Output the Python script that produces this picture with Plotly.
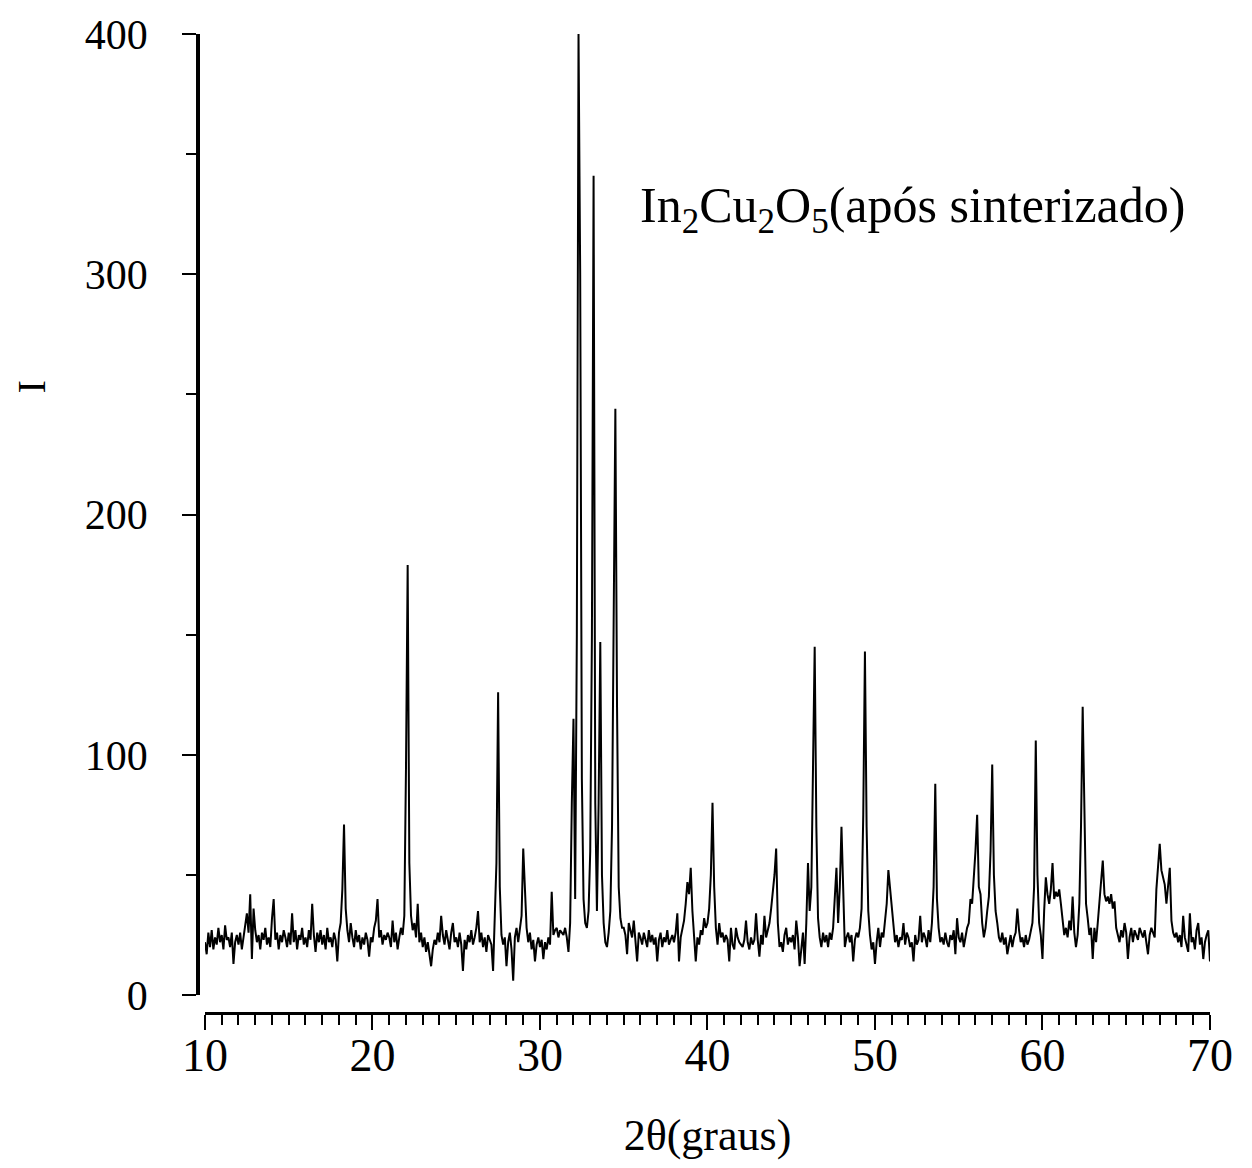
import plotly.graph_objects as go

# Intensity readings, 0.1 degree steps; each list covers one decade of 2theta
start_10, I_10_20 = 10.0, [
    22, 17, 26, 20, 27, 19, 24, 21, 28, 22,
    25, 19, 29, 23, 24, 20, 26, 13, 22, 25,
    21, 26, 19, 24, 30, 34, 26, 42, 15, 36,
    27, 22, 25, 19, 26, 23, 28, 21, 24, 20,
    32, 40, 23, 26, 19, 25, 22, 27, 24, 20,
    26, 21, 34, 22, 27, 19, 25, 23, 28, 21,
    24, 20, 27, 23, 38, 25, 18, 26, 22, 27,
    21, 25, 19, 28, 22, 24, 20, 26, 23, 14,
    26, 30, 44, 71, 36, 27, 22, 30, 24, 20,
    27, 22, 25, 19, 24, 21, 26, 23, 16, 24,
]
start_20, I_20_30 = 20.0, [
    22, 28, 31, 40, 24, 27, 21, 25, 23, 26,
    24, 20, 31, 22, 26, 19, 24, 28, 25, 33,
    95, 179, 55, 33, 27, 30, 24, 38, 22, 26,
    20, 24, 18, 22, 17, 12, 19, 23, 21, 26,
    22, 33, 25, 21, 27, 23, 19, 26, 30, 22,
    24, 20, 26, 21, 10, 23, 19, 25, 22, 27,
    21, 24, 28, 35, 22, 26, 20, 24, 18, 25,
    23, 21, 10, 30, 55, 126, 45, 25, 21, 24,
    12, 22, 26, 19, 6, 24, 28, 22, 27, 33,
    61, 42, 28, 22, 26, 19, 23, 14, 21, 24,
]
start_30, I_30_40 = 30.0, [
    20, 23, 15, 22, 19, 24, 21, 43, 25, 27,
    28, 24, 27, 26, 25, 28, 24, 18, 30, 80,
    115, 40, 150, 400, 300, 90, 40, 30, 28, 35,
    60, 150, 341, 80, 35, 80, 147, 50, 30, 22,
    20, 26, 35, 70, 170, 244, 120, 45, 32, 28,
    28, 25, 17, 30, 27, 24, 31, 22, 14, 26,
    24, 21, 26, 23, 20, 27, 22, 25, 21, 24,
    14, 23, 26, 20, 24, 22, 27, 21, 23, 25,
    22, 26, 34, 14, 24, 28, 31, 38, 47, 42,
    53, 35, 22, 14, 24, 21, 27, 25, 32, 28,
]
start_40, I_40_50 = 40.0, [
    30, 36, 50, 80, 45, 28, 21, 30, 24, 26,
    22, 25, 23, 14, 28, 21, 19, 28, 24, 22,
    21, 20, 23, 31, 22, 19, 24, 21, 23, 34,
    23, 16, 25, 21, 33, 24, 27, 30, 36, 42,
    50, 61, 30, 20, 22, 18, 25, 28, 21, 24,
    22, 25, 19, 31, 24, 12, 20, 26, 13, 30,
    55, 35, 45, 90, 145, 70, 32, 24, 20, 26,
    22, 25, 20, 26, 23, 28, 40, 53, 30, 45,
    70, 40, 20, 24, 26, 22, 25, 14, 23, 26,
    24, 28, 36, 75, 143, 70, 35, 25, 19, 22,
]
start_50, I_50_60 = 50.0, [
    13, 22, 28, 20, 26, 24, 30, 38, 52, 45,
    38, 28, 22, 25, 20, 24, 23, 30, 21, 26,
    24, 20, 22, 14, 25, 21, 23, 33, 22, 26,
    24, 20, 27, 22, 30, 45, 88, 40, 28, 22,
    24, 21, 26, 22, 20, 25, 23, 27, 17, 32,
    24, 22, 26, 20, 24, 28, 30, 40, 38, 48,
    60, 75, 45, 42, 30, 24, 28, 35, 41, 60,
    96, 50, 35, 30, 24, 22, 26, 21, 24, 17,
    22, 25, 20, 24, 26, 36, 27, 22, 24, 20,
    25, 21, 23, 26, 30, 45, 106, 50, 30, 25,
]
start_60, I_60_70 = 60.0, [
    15, 35, 49, 42, 38, 44, 55, 40, 43, 41,
    44, 38, 30, 25, 28, 24, 31, 27, 41, 26,
    20, 25, 38, 70, 120, 80, 38, 32, 25, 28,
    15, 28, 22, 30, 38, 45, 56, 42, 39, 41,
    38, 42, 36, 39, 28, 25, 22, 27, 24, 30,
    26, 15, 24, 28, 22, 27, 25, 23, 28, 26,
    24, 27, 22, 17, 25, 28, 26, 24, 44, 56,
    63, 52, 49, 46, 38, 45, 53, 31, 26, 24,
    26, 22, 25, 20, 33, 24, 21, 18, 34, 22,
    24, 19, 27, 30, 21, 24, 15, 22, 25, 27,
    14,
]

segments = [(start_10, I_10_20), (start_20, I_20_30), (start_30, I_30_40),
            (start_40, I_40_50), (start_50, I_50_60), (start_60, I_60_70)]
step = 0.1
two_theta, intensity = [], []
for s, vals in segments:
    for i, v in enumerate(vals):
        two_theta.append(round(s + i * step, 2))
        intensity.append(v)

x_ticks = [10, 20, 30, 40, 50, 60, 70]
y_ticks = [0, 100, 200, 300, 400]
label_text = "In<sub>2</sub>Cu<sub>2</sub>O<sub>5</sub>(após sinterizado)"
x_title = "2θ(graus)"
y_title = "I"

FONT = "Liberation Serif, Times New Roman, serif"

fig = go.Figure()
fig.add_trace(go.Scatter(x=two_theta, y=intensity, mode="lines",
                         line=dict(color="black", width=2),
                         showlegend=False, hoverinfo="skip"))

fig.add_annotation(x=35.85, y=327, xref="x", yref="y", text=label_text,
                   showarrow=False, xanchor="left", yanchor="middle",
                   font=dict(family=FONT, size=50, color="black"))

# y-axis title, placed where the reference puts it (above the axis middle)
fig.add_annotation(x=32, y=385, xref="paper", yref="paper", text=y_title,
                   showarrow=False, textangle=-90, xanchor="center", yanchor="middle",
                   font=dict(family=FONT, size=40, color="black"))
fig.layout.annotations[-1].update(x=(32 - 198) / 1014, y=(1013 - 385) / 983)

fig.update_layout(
    width=1252, height=1168,
    margin=dict(l=198, r=40, t=30, b=155),
    paper_bgcolor="white", plot_bgcolor="white",
    font=dict(family=FONT, color="black"),
    xaxis=dict(range=[10, 70], domain=[0.0069, 0.998], anchor="free", position=0,
               tickvals=x_ticks, ticktext=[str(v) for v in x_ticks],
               ticks="outside", ticklen=15, tickwidth=2, tickcolor="black",
               minor=dict(dtick=1, tick0=10, ticks="outside", ticklen=10,
                          tickwidth=1.5, tickcolor="black"),
               showline=True, linecolor="black", linewidth=3,
               showgrid=False, zeroline=False,
               tickfont=dict(family=FONT, size=46, color="black"),
               ticklabelstandoff=-14,
               title=dict(text=x_title, standoff=38,
                          font=dict(family=FONT, size=44, color="black"))),
    yaxis=dict(range=[0, 400], domain=[0.0183, 1], anchor="free", position=0,
               tickvals=y_ticks, ticktext=[str(v) for v in y_ticks],
               ticks="outside", ticklen=14, tickwidth=2, tickcolor="black",
               minor=dict(dtick=50, tick0=0, ticks="outside", ticklen=10,
                          tickwidth=1.5, tickcolor="black"),
               showline=True, linecolor="black", linewidth=3.5,
               showgrid=False, zeroline=False,
               tickfont=dict(family=FONT, size=42, color="black"),
               ticklabelstandoff=26),
)

fig.write_html("out.html")
